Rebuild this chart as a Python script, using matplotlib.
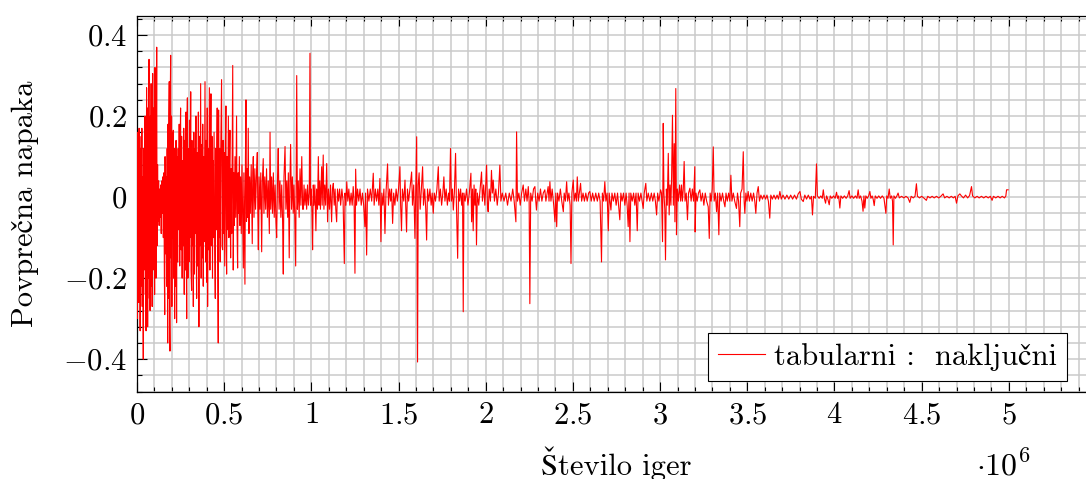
import matplotlib
matplotlib.use("Agg")
import matplotlib.pyplot as plt
from matplotlib.ticker import MultipleLocator, FuncFormatter

plt.rcParams["font.family"] = ["cmr10", "STIXGeneral"]
plt.rcParams["mathtext.fontset"] = "cm"
plt.rcParams["axes.unicode_minus"] = False

# (milijon iger, povprečna napaka) - odčitano s slike
odsek_1 = [
    (0.000, 0.06), (0.002, -0.30), (0.004, 0.16), (0.006, -0.12), (0.008, 0.10),
    (0.010, -0.26), (0.012, 0.17), (0.014, -0.18), (0.016, 0.12), (0.018, -0.33),
    (0.020, 0.08), (0.022, -0.22), (0.024, 0.15), (0.026, -0.10), (0.028, 0.17),
    (0.030, -0.27), (0.032, 0.05), (0.034, -0.15), (0.036, -0.40), (0.038, 0.12),
    (0.040, -0.18), (0.042, 0.09), (0.044, -0.08), (0.046, 0.20), (0.048, -0.24),
    (0.050, 0.14), (0.052, -0.33), (0.055, 0.27), (0.057, -0.12), (0.059, 0.22),
    (0.061, -0.32), (0.063, 0.10), (0.065, -0.20), (0.067, 0.24), (0.069, 0.34),
    (0.071, -0.25), (0.073, 0.15), (0.075, -0.28), (0.077, 0.20), (0.079, -0.14),
    (0.081, 0.28), (0.083, -0.22), (0.085, 0.12), (0.087, -0.27), (0.090, 0.305),
    (0.092, -0.18), (0.094, 0.22), (0.096, -0.10), (0.099, 0.18), (0.101, -0.24),
    (0.103, 0.32), (0.105, -0.15), (0.107, 0.10), (0.109, -0.20), (0.111, 0.16),
    (0.113, 0.37), (0.115, -0.12), (0.118, 0.08), (0.121, -0.06), (0.124, 0.04),
]

odsek_2 = [
    (0.127, -0.07), (0.130, 0.02), (0.133, -0.05), (0.136, 0.03), (0.139, -0.09),
    (0.142, 0.04), (0.145, -0.04), (0.148, 0.05), (0.151, -0.10), (0.154, 0.06),
    (0.157, -0.20), (0.159, -0.29), (0.161, 0.10), (0.164, -0.14), (0.167, 0.05),
    (0.170, -0.22), (0.173, 0.12), (0.176, -0.36), (0.178, 0.18), (0.180, -0.25),
    (0.183, 0.20), (0.185, 0.285), (0.187, -0.30), (0.189, -0.38), (0.191, 0.25),
    (0.193, 0.35), (0.195, -0.15), (0.198, 0.20), (0.200, -0.27), (0.203, 0.16),
    (0.205, -0.10), (0.208, 0.165), (0.210, -0.20), (0.213, 0.12), (0.216, -0.30),
    (0.218, 0.08), (0.221, -0.22), (0.224, 0.14), (0.227, -0.31), (0.230, 0.10),
    (0.233, -0.16), (0.236, 0.12), (0.239, -0.08), (0.242, 0.18), (0.245, -0.17),
    (0.247, 0.10), (0.250, 0.22), (0.253, -0.13), (0.256, 0.15), (0.259, -0.20),
    (0.262, 0.09), (0.265, -0.12), (0.268, 0.17), (0.271, -0.24), (0.274, 0.14),
    (0.277, -0.18), (0.281, 0.21), (0.283, -0.14), (0.285, -0.30), (0.287, 0.18),
    (0.289, 0.245), (0.292, -0.20), (0.295, 0.12), (0.298, -0.16), (0.301, 0.19),
    (0.304, -0.10), (0.308, 0.26), (0.310, -0.18), (0.313, -0.23), (0.315, 0.14),
    (0.318, -0.12), (0.320, 0.10), (0.323, -0.27), (0.326, 0.16), (0.329, -0.19),
    (0.332, 0.12),
]

odsek_3 = [
    (0.335, -0.09), (0.338, 0.20), (0.340, -0.14), (0.342, -0.25), (0.345, 0.11),
    (0.348, -0.17), (0.352, 0.21), (0.355, -0.32), (0.358, 0.15), (0.361, -0.12),
    (0.365, 0.28), (0.368, -0.20), (0.371, 0.13), (0.374, -0.15), (0.377, 0.18),
    (0.380, -0.22), (0.383, 0.10), (0.386, -0.11), (0.390, 0.285), (0.393, -0.16),
    (0.396, 0.14), (0.399, -0.21), (0.403, 0.22), (0.405, -0.27), (0.408, 0.12),
    (0.411, -0.13), (0.415, 0.27), (0.418, -0.18), (0.421, 0.10), (0.424, 0.255),
    (0.427, -0.12), (0.430, 0.15), (0.433, -0.20), (0.436, 0.09), (0.439, -0.10),
    (0.442, 0.16), (0.446, -0.14), (0.449, -0.25), (0.452, 0.12), (0.455, -0.08),
    (0.457, 0.07), (0.460, 0.22), (0.463, -0.15), (0.466, -0.36), (0.468, 0.215),
    (0.471, -0.10), (0.474, 0.12), (0.477, -0.16), (0.480, 0.10), (0.485, 0.29),
    (0.488, -0.12), (0.491, -0.13), (0.494, 0.14), (0.497, -0.09), (0.500, 0.11),
    (0.503, -0.17), (0.507, 0.13), (0.510, 0.225), (0.512, -0.12), (0.514, -0.19),
    (0.517, 0.10), (0.520, -0.08), (0.524, 0.20), (0.527, -0.10), (0.530, 0.08),
    (0.533, 0.165), (0.535, -0.06), (0.537, -0.15), (0.540, 0.07), (0.543, -0.09),
    (0.546, 0.12), (0.549, 0.325), (0.552, -0.18), (0.555, 0.06), (0.558, -0.07),
    (0.562, 0.10), (0.566, -0.05), (0.571, 0.20), (0.574, -0.08), (0.577, -0.175),
    (0.580, 0.06), (0.583, -0.04), (0.587, 0.10), (0.590, -0.07), (0.594, 0.05),
    (0.598, -0.09), (0.602, 0.08), (0.606, -0.05), (0.610, -0.175), (0.613, 0.06),
    (0.616, -0.08), (0.619, -0.215), (0.622, 0.10), (0.625, 0.24), (0.628, -0.06),
    (0.632, 0.07), (0.635, -0.05), (0.638, 0.17), (0.642, -0.09), (0.646, 0.05),
]

odsek_4 = [
    (0.650, -0.04), (0.655, 0.08), (0.661, -0.115), (0.664, 0.06), (0.667, 0.10),
    (0.671, -0.05), (0.676, 0.07), (0.680, -0.03), (0.685, 0.05), (0.690, 0.11),
    (0.693, -0.04), (0.696, -0.13), (0.700, 0.05), (0.705, -0.03), (0.710, 0.06),
    (0.715, -0.135), (0.719, 0.04), (0.724, 0.095), (0.728, -0.04), (0.733, 0.05),
    (0.738, -0.03), (0.743, 0.07), (0.748, -0.05), (0.753, 0.04), (0.759, -0.09),
    (0.763, 0.16), (0.767, -0.03), (0.772, 0.05), (0.777, -0.04), (0.782, 0.06),
    (0.787, -0.05), (0.792, 0.03), (0.797, -0.06), (0.801, -0.10), (0.806, 0.05),
    (0.810, 0.12), (0.815, -0.03), (0.820, 0.04), (0.825, -0.05), (0.830, 0.03),
    (0.835, -0.06), (0.839, -0.19), (0.843, 0.05), (0.849, 0.125), (0.854, -0.03),
    (0.859, 0.04), (0.864, -0.05), (0.868, 0.06), (0.873, -0.15), (0.877, 0.04),
    (0.881, 0.13), (0.886, -0.03), (0.891, 0.05), (0.896, -0.04), (0.900, 0.03),
    (0.905, -0.05), (0.910, -0.17), (0.913, 0.05), (0.916, 0.30), (0.920, -0.03),
    (0.925, 0.04), (0.930, -0.05), (0.935, 0.07), (0.940, -0.02), (0.945, 0.10),
    (0.950, -0.03), (0.954, -0.03), (0.958, 0.03), (0.963, -0.02), (0.968, 0.02),
    (0.973, -0.03), (0.978, 0.03), (0.983, -0.02), (0.988, 0.01), (0.992, 0.355),
    (0.995, -0.02), (1.000, 0.02), (1.004, -0.05), (1.007, -0.13), (1.011, 0.03),
]

odsek_5 = [
    (1.015, -0.02), (1.020, 0.03), (1.026, -0.083), (1.030, 0.02), (1.035, -0.03),
    (1.040, 0.100), (1.044, -0.02), (1.048, 0.04), (1.052, -0.03), (1.059, 0.075),
    (1.062, -0.02), (1.068, 0.104), (1.072, -0.03), (1.077, 0.03), (1.082, -0.02),
    (1.088, 0.083), (1.093, -0.061), (1.098, 0.02), (1.104, -0.03), (1.110, 0.03),
    (1.116, -0.061), (1.121, 0.02), (1.126, 0.034), (1.131, -0.02), (1.136, 0.02),
    (1.140, -0.03), (1.145, -0.061), (1.150, 0.02), (1.156, -0.01), (1.162, 0.02),
    (1.168, -0.02), (1.175, 0.02), (1.182, -0.01), (1.189, -0.164), (1.193, 0.01),
    (1.198, -0.02), (1.203, 0.038), (1.209, -0.01), (1.215, 0.02), (1.221, -0.02),
    (1.228, 0.01), (1.234, -0.02), (1.240, 0.026), (1.245, -0.01), (1.250, -0.188),
    (1.254, 0.069), (1.259, -0.02), (1.265, 0.02), (1.272, -0.01), (1.279, 0.02),
    (1.286, -0.02), (1.293, 0.01), (1.300, -0.02), (1.307, -0.073), (1.311, 0.01),
    (1.317, -0.143), (1.322, 0.02), (1.330, -0.01), (1.338, 0.02), (1.346, -0.01),
    (1.355, 0.059), (1.360, -0.02), (1.367, 0.02), (1.374, -0.01), (1.381, 0.02),
    (1.387, -0.02), (1.393, 0.046), (1.399, -0.110), (1.404, 0.01), (1.410, -0.02),
    (1.416, 0.02), (1.422, -0.090), (1.428, 0.01), (1.437, 0.082), (1.442, -0.02),
    (1.449, 0.02), (1.455, -0.01), (1.460, 0.02), (1.466, -0.065), (1.472, 0.01),
    (1.479, -0.02), (1.486, 0.02), (1.493, -0.01), (1.500, 0.02), (1.508, 0.075),
    (1.512, -0.02), (1.517, -0.083), (1.522, 0.02), (1.530, -0.01), (1.537, 0.042),
    (1.541, -0.02), (1.546, -0.086), (1.551, 0.02), (1.558, -0.01), (1.565, 0.02),
    (1.575, 0.062), (1.580, -0.02), (1.587, 0.03), (1.594, -0.102), (1.599, 0.03),
    (1.604, 0.149), (1.609, -0.407), (1.613, 0.03), (1.618, 0.06), (1.624, -0.03),
    (1.631, 0.02), (1.638, 0.075), (1.643, -0.02), (1.650, 0.02), (1.656, -0.03),
    (1.661, -0.106), (1.666, 0.02), (1.673, -0.01), (1.680, 0.02), (1.687, -0.02),
    (1.693, 0.01), (1.699, -0.040), (1.705, 0.01), (1.712, -0.01), (1.720, 0.02),
    (1.728, 0.075), (1.733, -0.01), (1.740, 0.02), (1.747, -0.02), (1.754, 0.01),
    (1.760, 0.050), (1.766, -0.01), (1.773, 0.02), (1.780, -0.02), (1.787, 0.01),
    (1.792, -0.01), (1.798, 0.120), (1.803, -0.01), (1.809, 0.02), (1.814, -0.032),
    (1.820, 0.01), (1.827, 0.108), (1.832, -0.02), (1.839, -0.151), (1.844, 0.02),
    (1.850, -0.01), (1.856, 0.02), (1.862, -0.02), (1.867, 0.01), (1.871, -0.283),
    (1.875, 0.01), (1.882, -0.01), (1.890, 0.02), (1.898, -0.02), (1.906, 0.01),
    (1.915, 0.059), (1.919, -0.061), (1.924, 0.02), (1.928, -0.083), (1.933, 0.03),
    (1.938, -0.02), (1.943, 0.02), (1.947, -0.118), (1.952, 0.01), (1.960, -0.02),
    (1.968, 0.02), (1.976, 0.062), (1.981, -0.01), (1.988, 0.03), (1.995, -0.02),
    (2.005, 0.079), (2.010, -0.02), (2.014, -0.036), (2.020, 0.02), (2.027, -0.01),
    (2.033, 0.066), (2.038, 0.01), (2.043, 0.042), (2.050, -0.01), (2.058, 0.02),
    (2.066, -0.02), (2.073, 0.01), (2.081, 0.079), (2.087, -0.01), (2.095, 0.01),
    (2.105, -0.01), (2.115, 0.01), (2.125, -0.02), (2.135, 0.01), (2.145, -0.01),
    (2.155, 0.02), (2.163, -0.01), (2.173, -0.061), (2.177, 0.161), (2.182, -0.01),
    (2.190, 0.01), (2.198, -0.02), (2.206, 0.01), (2.215, 0.030), (2.222, -0.01),
    (2.230, 0.02), (2.237, -0.01), (2.244, 0.026), (2.249, -0.01), (2.253, -0.263),
    (2.258, 0.01), (2.266, -0.01), (2.274, 0.02), (2.282, 0.026), (2.287, -0.01),
    (2.291, -0.032), (2.298, 0.01), (2.306, -0.01), (2.314, 0.02), (2.322, -0.01),
    (2.330, 0.01), (2.339, 0.018), (2.345, -0.01), (2.352, 0.01), (2.358, 0.026),
    (2.363, -0.01),
]

odsek_6 = [
    (2.368, 0.038), (2.374, -0.01), (2.381, 0.02), (2.390, -0.02), (2.397, -0.061),
    (2.402, 0.01), (2.407, -0.073), (2.412, 0.01), (2.420, -0.01), (2.428, 0.02),
    (2.436, -0.01), (2.445, -0.036), (2.450, 0.01), (2.457, -0.01), (2.464, 0.038),
    (2.470, -0.01), (2.477, 0.01), (2.484, -0.02), (2.489, -0.164), (2.494, 0.01),
    (2.502, 0.042), (2.507, -0.01), (2.514, 0.01), (2.520, -0.01), (2.525, 0.050),
    (2.531, -0.01), (2.537, 0.01), (2.544, 0.034), (2.550, -0.01), (2.558, 0.01),
    (2.566, -0.01), (2.574, 0.01), (2.582, -0.01), (2.590, 0.01), (2.597, 0.014),
    (2.605, -0.01), (2.613, 0.01), (2.622, -0.01), (2.631, 0.01), (2.640, -0.01),
    (2.648, 0.01), (2.656, -0.01), (2.664, -0.160), (2.669, 0.01), (2.676, -0.01),
    (2.683, 0.038), (2.689, -0.01), (2.696, 0.01), (2.703, -0.083), (2.708, 0.01),
    (2.713, -0.01), (2.718, -0.032), (2.724, 0.01), (2.732, -0.01), (2.740, 0.01),
    (2.748, -0.02), (2.756, 0.01), (2.762, -0.02), (2.769, -0.056), (2.775, 0.01),
    (2.782, -0.01), (2.790, 0.01), (2.798, -0.02), (2.805, 0.01), (2.811, -0.02),
    (2.817, -0.073), (2.822, 0.01), (2.827, -0.110), (2.832, 0.01), (2.840, -0.01),
    (2.848, 0.01), (2.855, -0.02), (2.862, 0.01), (2.869, -0.083), (2.874, 0.01),
    (2.882, -0.01), (2.890, 0.01), (2.897, -0.01), (2.903, -0.028), (2.909, 0.01),
    (2.918, 0.034), (2.924, -0.01), (2.932, 0.01), (2.941, -0.01), (2.950, 0.01),
    (2.958, -0.01), (2.966, 0.01), (2.973, -0.01), (2.980, -0.044), (2.986, 0.01),
    (2.993, -0.01), (3.003, 0.018), (3.008, 0.01), (3.014, -0.110), (3.018, 0.182),
    (3.022, 0.01), (3.027, -0.03), (3.031, -0.155), (3.036, 0.02), (3.041, -0.02),
    (3.047, 0.108), (3.052, -0.044), (3.057, 0.03), (3.062, -0.02), (3.066, 0.05),
    (3.071, 0.202), (3.076, -0.02), (3.081, 0.132), (3.085, -0.061), (3.090, 0.268),
    (3.094, -0.093), (3.099, 0.02), (3.105, -0.01), (3.112, 0.03), (3.118, -0.01),
    (3.123, 0.030), (3.128, -0.01), (3.133, 0.02), (3.138, 0.088), (3.143, -0.01),
    (3.150, 0.01), (3.157, -0.056), (3.163, 0.01), (3.171, 0.022), (3.178, -0.01),
    (3.185, 0.02), (3.192, -0.01), (3.199, 0.075), (3.201, -0.086), (3.206, 0.01),
    (3.213, -0.01), (3.220, 0.01), (3.228, 0.018), (3.235, -0.01), (3.243, 0.01),
    (3.251, -0.02), (3.259, 0.01), (3.267, -0.01), (3.276, -0.024), (3.282, -0.102),
    (3.287, 0.01), (3.293, -0.01), (3.299, 0.02), (3.305, 0.124), (3.310, -0.01),
    (3.317, 0.01), (3.324, -0.036), (3.330, 0.01), (3.337, -0.093), (3.342, 0.01),
    (3.350, -0.01), (3.358, 0.01), (3.365, -0.01), (3.372, -0.024), (3.378, 0.01),
    (3.385, -0.01), (3.393, 0.01), (3.400, -0.01), (3.406, 0.054), (3.412, -0.01),
    (3.420, 0.01), (3.428, -0.01), (3.438, -0.028), (3.444, 0.01), (3.450, -0.01),
    (3.457, -0.073), (3.462, 0.01), (3.470, 0.02), (3.477, 0.112), (3.482, -0.01),
    (3.486, -0.040), (3.492, 0.01), (3.498, -0.01), (3.505, 0.014), (3.512, -0.01),
    (3.520, 0.01), (3.528, -0.01), (3.536, 0.01), (3.543, -0.01), (3.549, -0.040),
    (3.556, 0.01), (3.563, 0.026), (3.570, -0.01), (3.578, 0.005), (3.587, -0.005),
    (3.596, 0.005), (3.605, -0.005), (3.613, 0.005), (3.621, -0.01), (3.629, -0.052),
    (3.635, 0.005), (3.644, -0.005), (3.653, 0.005), (3.662, -0.005), (3.671, 0.005),
    (3.679, -0.005), (3.687, 0.014), (3.695, -0.005),
]

odsek_7 = [
    (3.705, 0.005), (3.716, -0.005), (3.727, 0.005), (3.738, -0.005), (3.749, 0.005),
    (3.760, -0.005), (3.771, 0.005), (3.782, -0.005), (3.792, 0.008), (3.802, 0.014),
    (3.810, -0.005), (3.821, -0.011), (3.830, 0.005), (3.840, -0.005), (3.850, 0.005),
    (3.860, -0.005), (3.868, 0.002), (3.874, -0.044), (3.880, 0.002), (3.890, -0.003),
    (3.897, 0.082), (3.902, 0.003), (3.912, -0.003), (3.922, 0.003), (3.930, -0.003),
    (3.936, 0.018), (3.942, -0.003), (3.949, -0.015), (3.955, 0.003), (3.962, -0.005),
    (3.970, -0.019), (3.976, 0.003), (3.985, -0.003), (3.995, 0.003), (4.004, -0.003),
    (4.012, 0.012), (4.018, -0.003), (4.024, 0.003), (4.031, -0.027), (4.037, 0.003),
    (4.047, -0.003), (4.057, 0.003), (4.067, -0.003), (4.076, 0.003), (4.084, 0.016),
    (4.090, -0.003), (4.100, 0.003), (4.110, -0.003), (4.120, 0.003), (4.129, -0.003),
    (4.136, 0.018), (4.142, -0.003), (4.150, 0.003), (4.158, -0.01), (4.164, -0.035),
    (4.169, 0.003), (4.174, -0.027), (4.180, 0.003), (4.188, -0.003), (4.196, 0.003),
    (4.203, 0.014), (4.209, -0.003), (4.216, 0.003), (4.222, -0.005), (4.228, -0.021),
    (4.234, 0.003), (4.244, -0.003), (4.254, 0.003), (4.264, -0.003), (4.274, 0.003),
    (4.284, -0.003), (4.295, -0.040), (4.300, 0.003), (4.307, -0.003), (4.314, 0.020),
    (4.320, -0.003), (4.328, 0.003), (4.333, -0.01), (4.337, -0.118), (4.341, 0.003),
    (4.350, -0.003), (4.358, 0.003), (4.365, 0.010), (4.372, -0.002), (4.385, 0.002),
    (4.398, -0.002), (4.410, 0.002), (4.422, -0.002), (4.432, -0.013), (4.440, 0.002),
    (4.452, -0.002), (4.462, 0.002), (4.470, 0.033), (4.476, 0.002), (4.488, -0.002),
    (4.500, 0.002), (4.512, -0.002), (4.527, -0.008), (4.535, 0.002), (4.548, -0.002),
    (4.560, 0.002), (4.572, -0.002), (4.585, 0.002), (4.598, -0.002), (4.610, 0.002),
    (4.623, 0.008), (4.632, -0.002), (4.645, 0.002), (4.658, -0.002), (4.670, 0.002),
    (4.682, -0.002), (4.692, 0.002), (4.700, -0.015), (4.708, 0.003), (4.719, 0.008),
    (4.728, 0.003), (4.740, -0.002), (4.752, 0.005), (4.764, -0.002), (4.775, 0.004),
    (4.786, 0.026), (4.792, 0.003), (4.805, -0.002), (4.818, 0.002), (4.830, -0.002),
    (4.843, 0.002), (4.856, -0.002), (4.869, 0.002), (4.882, -0.002), (4.894, 0.002),
    (4.904, -0.008), (4.912, 0.002), (4.925, -0.002), (4.938, 0.002), (4.950, -0.002),
    (4.962, 0.002), (4.975, -0.002), (4.983, 0.003), (4.987, 0.018), (4.996, 0.018),
]

oznaka_x = "Število iger"
oznaka_y = "Povprečna napaka"
legenda = "tabularni :  naključni"

tocke = odsek_1 + odsek_2 + odsek_3 + odsek_4 + odsek_5 + odsek_6 + odsek_7
igre = [p[0] for p in tocke]
napaka = [p[1] for p in tocke]


def oblika(v, pos):
    v = round(v, 6) + 0.0
    if v > 5.01:
        return ""
    return f"${v:g}$"


fig = plt.figure(figsize=(10.86, 4.79), dpi=100)
ax = fig.add_axes([0.12615, 0.18163, 0.88306, 0.78497])

ax.plot(igre, napaka, color="red", linewidth=0.8, label=legenda, zorder=3)

ax.set_xlim(0, 5.5)
ax.set_ylim(-0.481, 0.447)

ax.xaxis.set_major_locator(MultipleLocator(0.5))
ax.xaxis.set_minor_locator(MultipleLocator(0.1))
ax.yaxis.set_major_locator(MultipleLocator(0.2))
ax.yaxis.set_minor_locator(MultipleLocator(0.04))
ax.xaxis.set_major_formatter(FuncFormatter(oblika))
ax.yaxis.set_major_formatter(FuncFormatter(oblika))

ax.tick_params(which="both", direction="in", top=True, right=True,
               labelsize=22, width=0.8)
ax.tick_params(which="major", length=7.5, pad=7)
ax.tick_params(which="minor", length=3.6)

ax.set_axisbelow(True)
ax.grid(which="major", color="#cacaca", linewidth=1.1)
ax.grid(which="minor", color="#cacaca", linewidth=1.1)

for s in ax.spines.values():
    s.set_linewidth(0.9)

ax.set_xlabel(oznaka_x, fontsize=22)
ax.xaxis.set_label_coords(0.5, -0.2207)
ax.xaxis.label.set_va("baseline")
ax.set_ylabel(oznaka_y, fontsize=22)
ax.yaxis.set_label_coords(-0.117, 0.5)
ax.yaxis.label.set_va("center")

ax.text(0.875, -0.2207, r"$\cdot 10^{6}$", transform=ax.transAxes,
        ha="left", va="baseline", fontsize=23)

leg = ax.legend(loc="lower right", bbox_to_anchor=(0.970, 0.029),
                borderaxespad=0, fontsize=22, fancybox=False,
                edgecolor="black", framealpha=1, handlelength=1.55,
                handletextpad=0.3, borderpad=0.33)
leg.get_frame().set_linewidth(0.8)

fig.savefig("out.png", dpi=100)
